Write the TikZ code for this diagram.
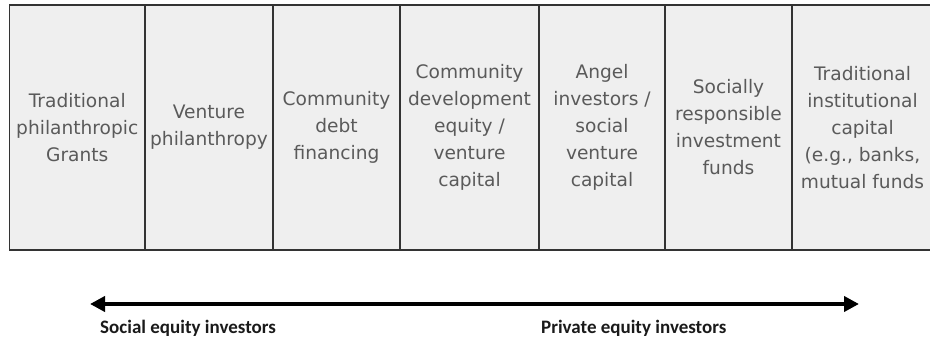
\documentclass[tikz,border=0pt]{standalone}
\usepackage{fontspec}
\setmainfont{DejaVu Sans}
\newfontfamily\labelfont{Carlito}
\usetikzlibrary{arrows.meta}
\definecolor{cellfill}{HTML}{EFEFEF}
\definecolor{cellline}{HTML}{333333}
\definecolor{celltext}{HTML}{5A5A5A}
\definecolor{labeltext}{HTML}{1A1A1A}
\begin{document}
\begin{tikzpicture}[x=1pt,y=-1pt,
  cellbox/.style={draw=cellline, line width=1.8pt, fill=cellfill, text=celltext,
    align=center, inner sep=0pt, minimum height=245pt,
    font=\fontsize{18.6}{27}\selectfont},
  bottomlabel/.style={text=labeltext, font=\labelfont\bfseries\fontsize{19}{22}\selectfont, inner sep=0pt, anchor=west},
  bigarrow/.style={line width=4pt, {Triangle[length=15pt,width=15pt]}-{Triangle[length=15pt,width=15pt]}}
]
\useasboundingbox (0,0) rectangle (930,339);
\node[cellbox, minimum width=135.5pt] (c1) at (77.25,127.5) {Traditional\\philanthropic\\Grants};
\node[cellbox, minimum width=128pt] (c2) at (209,127.5) {Venture\\philanthropy};
\node[cellbox, minimum width=127pt] (c3) at (336.5,127.5) {Community\\debt\\financing};
\node[cellbox, minimum width=139pt] (c4) at (469.5,127.5) {Community\\development\\equity /\\venture\\capital};
\node[cellbox, minimum width=126pt] (c5) at (602,127.5) {Angel\\investors /\\social\\venture\\capital};
\node[cellbox, minimum width=127pt] (c6) at (728.5,127.5) {Socially\\responsible\\investment\\funds};
\node[cellbox, minimum width=141pt] (c7) at (862.5,127.5) {Traditional\\institutional\\capital\\(e.g., banks,\\mutual funds};
\coordinate (aL) at (90,304);
\coordinate (aR) at (859,304);
\draw[bigarrow] (aL) -- (aR);
\node[bottomlabel] (l1) at (100,328) {Social equity investors};
\node[bottomlabel] (l2) at (541,328) {Private equity investors};
\end{tikzpicture}
\end{document}
